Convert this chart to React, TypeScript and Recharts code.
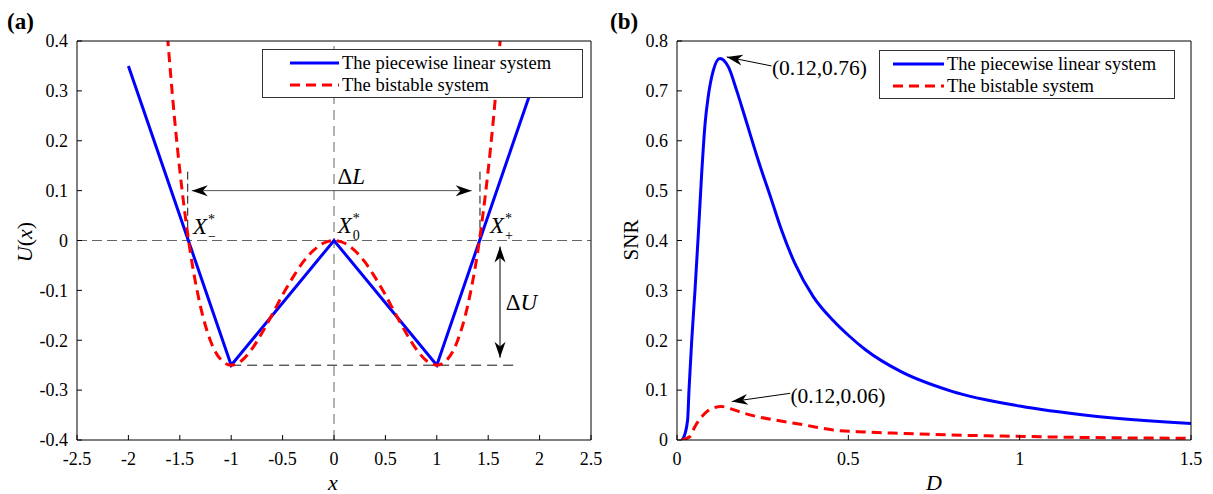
import React from 'react';
import { LineChart, Line, XAxis, YAxis, ReferenceLine, ReferenceDot, Legend } from 'recharts';

const FONT = '"Liberation Serif", "Times New Roman", serif';

// (a) potential functions
const xTicks = [-2.5, -2, -1.5, -1, -0.5, 0, 0.5, 1, 1.5, 2, 2.5];
const uTicks = [-0.4, -0.3, -0.2, -0.1, 0, 0.1, 0.2, 0.3, 0.4];
const pieceX = [-2, -1, 0, 1, 2];
const pieceU = [0.35, -0.25, 0, -0.25, 0.35];
const bistX = [-1.62, -1.55, -1.5, -1.45, -1.4, -1.3, -1.2, -1.1, -1, -0.9, -0.8, -0.7, -0.6, -0.5, -0.4, -0.3, -0.2, -0.1, 0,
  0.1, 0.2, 0.3, 0.4, 0.5, 0.6, 0.7, 0.8, 0.9, 1, 1.1, 1.2, 1.3, 1.4, 1.45, 1.5, 1.55, 1.62];
const bistU = [0.41, 0.242, 0.141, 0.054, -0.02, -0.131, -0.202, -0.239, -0.25, -0.241, -0.218, -0.185, -0.148, -0.109, -0.074, -0.043, -0.02, -0.005, 0,
  -0.005, -0.02, -0.043, -0.074, -0.109, -0.148, -0.185, -0.218, -0.241, -0.25, -0.239, -0.202, -0.131, -0.02, 0.054, 0.141, 0.242, 0.41];

// (b) SNR against noise intensity D
const dTicks = [0, 0.5, 1, 1.5];
const snrTicks = [0, 0.1, 0.2, 0.3, 0.4, 0.5, 0.6, 0.7, 0.8];
const pieceD = [0.014, 0.018, 0.031, 0.035, 0.043, 0.0525, 0.062, 0.072, 0.082, 0.091, 0.106, 0.125, 0.15, 0.174, 0.198, 0.237,
  0.276, 0.305, 0.344, 0.398, 0.455, 0.5, 0.55, 0.651, 0.8, 1.0, 1.2, 1.5];
const pieceSNR = [0, 0.003, 0.04, 0.1, 0.2, 0.3, 0.41, 0.534, 0.635, 0.688, 0.741, 0.765, 0.748, 0.701, 0.648, 0.561,
  0.481, 0.421, 0.354, 0.287, 0.24, 0.21, 0.181, 0.138, 0.098, 0.068, 0.049, 0.033];
const bistD = [0.014, 0.038, 0.0525, 0.067, 0.087, 0.105, 0.13, 0.16, 0.189, 0.24, 0.286, 0.373, 0.456, 0.55, 0.651, 0.8, 0.943, 1.2, 1.5];
const bistSNR = [0, 0.007, 0.027, 0.042, 0.057, 0.064, 0.067, 0.062, 0.055, 0.046, 0.04, 0.03, 0.02, 0.016, 0.0134, 0.01, 0.008, 0.005, 0.0035];

const zip = (xs: number[], ys: number[]) => xs.map((x, i) => ({ x, y: ys[i] }));

const BLUE = '#0000ff';
const RED = '#ff0000';
const TICK = 5;
const GAP_X = 12;
const GAP_Y = 9;
const tickStyle = { fontFamily: FONT, fontSize: 18 };

// matlab style ticks: pointing inwards
const BottomTick = (p: any) => (
  <g>
    <line x1={p.x} y1={p.y - GAP_X} x2={p.x} y2={p.y - GAP_X - TICK} stroke="#000" />
    <text x={p.x} y={p.y} dy="0.71em" textAnchor="middle" fill="#000" style={tickStyle}>{String(p.payload.value)}</text>
  </g>
);
const TopTick = (p: any) => <line x1={p.x} y1={p.y} x2={p.x} y2={p.y + TICK} stroke="#000" />;
const LeftTick = (p: any) => (
  <g>
    <line x1={p.x + GAP_Y} y1={p.y} x2={p.x + GAP_Y + TICK} y2={p.y} stroke="#000" />
    <text x={p.x} y={p.y} dy="0.35em" textAnchor="end" fill="#000" style={tickStyle}>{String(p.payload.value)}</text>
  </g>
);
const RightTick = (p: any) => <line x1={p.x} y1={p.y} x2={p.x - TICK} y2={p.y} stroke="#000" />;

// arrow head polygon, tip at (tx,ty) coming from (fx,fy)
const head = (tx: number, ty: number, fx: number, fy: number) => {
  const a = Math.atan2(ty - fy, tx - fx);
  const c = Math.cos(a), s = Math.sin(a);
  const len = 16, half = 5.5;
  const bx = tx - len * c, by = ty - len * s;
  const nx = tx - len * 0.7 * c, ny = ty - len * 0.7 * s;
  return `M${tx},${ty} L${bx - half * s},${by + half * c} L${nx},${ny} L${bx + half * s},${by - half * c} Z`;
};

const arrow = (both: boolean, color: string) => (p: any) => (
  <g>
    <line x1={p.x1} y1={p.y1} x2={p.x2} y2={p.y2} stroke={color} strokeWidth={1} />
    <path d={head(p.x2, p.y2, p.x1, p.y1)} fill="#000" />
    {both && <path d={head(p.x1, p.y1, p.x2, p.y2)} fill="#000" />}
  </g>
);

const XStar = (sub: string) => (p: any) => (
  <text x={p.cx} y={p.cy} fill="#000" style={{ fontFamily: FONT, fontSize: 23 }}>
    <tspan fontStyle="italic">X</tspan>
    <tspan fontSize={14} dx={1} dy={-10}>*</tspan>
    <tspan fontSize={14} dx={-7} dy={17}>{sub}</tspan>
  </text>
);

const Note = (content: React.ReactNode, size = 22) => (p: any) => (
  <text x={p.cx} y={p.cy} fill="#000" style={{ fontFamily: FONT, fontSize: size }}>{content}</text>
);

const LegendBox = ({ width, sampleLeft, textLeft }: { width: number; sampleLeft: number; textLeft: number }) => (
  <svg width={width} height={49} style={{ display: 'block', fontFamily: FONT, fontSize: 18.5 }}>
    <rect x={0.5} y={0.5} width={width - 1} height={48} fill="#fff" stroke="#333" />
    <line x1={sampleLeft} y1={14} x2={textLeft - 3} y2={14} stroke={BLUE} strokeWidth={3} />
    <line x1={sampleLeft} y1={36} x2={textLeft - 3} y2={36} stroke={RED} strokeWidth={3} strokeDasharray="10 6" />
    <text x={textLeft} y={19.5} fill="#000">The piecewise linear system</text>
    <text x={textLeft} y={41.5} fill="#000">The bistable system</text>
  </svg>
);

const frame = { stroke: '#000' };

const PanelA = () => (
  <LineChart width={612} height={494} margin={{ top: 40, right: 20, bottom: 24, left: 37 }}>
    <XAxis dataKey="x" type="number" domain={[-2.5, 2.5]} ticks={xTicks} interval={0} allowDataOverflow
      tickSize={0} tickMargin={GAP_X} tickLine={false} axisLine={frame} tick={BottomTick} height={30} />
    <XAxis xAxisId="t" orientation="top" dataKey="x" type="number" domain={[-2.5, 2.5]} ticks={xTicks} interval={0}
      tickSize={0} tickMargin={0} tickLine={false} axisLine={frame} tick={TopTick} height={1} />
    <YAxis type="number" domain={[-0.4, 0.4]} ticks={uTicks} interval={0} allowDataOverflow
      tickSize={0} tickMargin={GAP_Y} tickLine={false} axisLine={frame} tick={LeftTick} width={40} />
    <YAxis yAxisId="r" orientation="right" type="number" domain={[-0.4, 0.4]} ticks={uTicks} interval={0}
      tickSize={0} tickMargin={0} tickLine={false} axisLine={frame} tick={RightTick} width={1} />

    <ReferenceLine y={0} stroke="#666" strokeDasharray="10 5" />
    <ReferenceLine x={0} stroke="#666" strokeDasharray="10 6" />
    <ReferenceLine segment={[{ x: -1, y: -0.25 }, { x: 1.8, y: -0.25 }]} stroke="#111" strokeDasharray="10 6" />
    <ReferenceLine segment={[{ x: -1.423, y: 0.138 }, { x: -1.423, y: 0 }]} stroke="#111" strokeDasharray="8 4" />
    <ReferenceLine segment={[{ x: 1.42, y: 0.138 }, { x: 1.42, y: 0 }]} stroke="#111" strokeDasharray="8 4" />
    <ReferenceLine segment={[{ x: -1.384, y: 0.1 }, { x: 1.339, y: 0.1 }]} shape={arrow(true, '#555')} />
    <ReferenceLine segment={[{ x: 1.615, y: -0.012 }, { x: 1.615, y: -0.235 }]} shape={arrow(true, '#000')} />

    <Line data={zip(pieceX, pieceU)} dataKey="y" type="linear" stroke={BLUE} strokeWidth={3} dot={false} isAnimationActive={false} />
    <Line data={zip(bistX, bistU)} dataKey="y" type="monotone" stroke={RED} strokeWidth={3} strokeDasharray="10 6" dot={false} isAnimationActive={false} />

    <ReferenceDot x={-1.372} y={0.013} r={0} shape={XStar('\u2212')} />
    <ReferenceDot x={0.036} y={0.015} r={0} shape={XStar('0')} />
    <ReferenceDot x={1.517} y={0.015} r={0} shape={XStar('+')} />
    <ReferenceDot x={0.033} y={0.113} r={0} shape={Note(<>{'\u0394'}<tspan fontStyle="italic">L</tspan></>, 23)} />
    <ReferenceDot x={1.67} y={-0.139} r={0} shape={Note(<>{'\u0394'}<tspan fontStyle="italic">U</tspan></>, 23)} />

    <Legend verticalAlign="middle" wrapperStyle={{ left: 262, top: 49, width: 321, height: 49 }}
      content={() => <LegendBox width={321} sampleLeft={28} textLeft={80} />} />
  </LineChart>
);

const PanelB = () => (
  <LineChart width={613} height={494} margin={{ top: 40, right: 21, bottom: 24, left: 37 }}>
    <XAxis dataKey="x" type="number" domain={[0, 1.5]} ticks={dTicks} interval={0} allowDataOverflow
      tickSize={0} tickMargin={GAP_X} tickLine={false} axisLine={frame} tick={BottomTick} height={30} />
    <XAxis xAxisId="t" orientation="top" dataKey="x" type="number" domain={[0, 1.5]} ticks={dTicks} interval={0}
      tickSize={0} tickMargin={0} tickLine={false} axisLine={frame} tick={TopTick} height={1} />
    <YAxis type="number" domain={[0, 0.8]} ticks={snrTicks} interval={0} allowDataOverflow
      tickSize={0} tickMargin={GAP_Y} tickLine={false} axisLine={frame} tick={LeftTick} width={40} />
    <YAxis yAxisId="r" orientation="right" type="number" domain={[0, 0.8]} ticks={snrTicks} interval={0}
      tickSize={0} tickMargin={0} tickLine={false} axisLine={frame} tick={RightTick} width={1} />

    <Line data={zip(pieceD, pieceSNR)} dataKey="y" type="monotone" stroke={BLUE} strokeWidth={3} dot={false} isAnimationActive={false} />
    <Line data={zip(bistD, bistSNR)} dataKey="y" type="monotone" stroke={RED} strokeWidth={3} strokeDasharray="10 6" dot={false} isAnimationActive={false} />

    <ReferenceLine segment={[{ x: 0.276, y: 0.75 }, { x: 0.145, y: 0.768 }]} shape={arrow(false, '#000')} />
    <ReferenceLine segment={[{ x: 0.33, y: 0.0936 }, { x: 0.16, y: 0.077 }]} shape={arrow(false, '#000')} />
    <ReferenceDot x={0.277} y={0.731} r={0} shape={Note('(0.12,0.76)', 21.5)} />
    <ReferenceDot x={0.331} y={0.0735} r={0} shape={Note('(0.12,0.06)', 21.5)} />

    <Legend verticalAlign="middle" wrapperStyle={{ left: 279, top: 50, width: 296, height: 49 }}
      content={() => <LegendBox width={296} sampleLeft={14} textLeft={68} />} />
  </LineChart>
);

const App = () => (
  <div style={{ position: 'absolute', left: 0, top: 0, width: 1213, height: 494, background: '#fff', fontFamily: FONT }}>
    <div style={{ position: 'absolute', left: 0, top: 0 }}><PanelA /></div>
    <div style={{ position: 'absolute', left: 600, top: 0 }}><PanelB /></div>
    {/* panel letters and axis titles */}
    <svg width={1213} height={494} style={{ position: 'absolute', left: 0, top: 0, pointerEvents: 'none', fontFamily: FONT }}>
      <g fill="#000">
        <text x={7} y={29} fontSize={23} fontWeight="bold">(a)</text>
        <text x={610} y={29} fontSize={23} fontWeight="bold">(b)</text>
        <text transform="translate(32,242) rotate(-90)" textAnchor="middle" fontSize={22}>
          <tspan fontStyle="italic">U</tspan>(<tspan fontStyle="italic">x</tspan>)
        </text>
        <text x={333} y={490} textAnchor="middle" fontSize={22} fontStyle="italic">x</text>
        <text transform="translate(638,240) rotate(-90)" textAnchor="middle" fontSize={21}>SNR</text>
        <text x={934} y={490} textAnchor="middle" fontSize={22} fontStyle="italic">D</text>
      </g>
    </svg>
  </div>
);

export default App;
